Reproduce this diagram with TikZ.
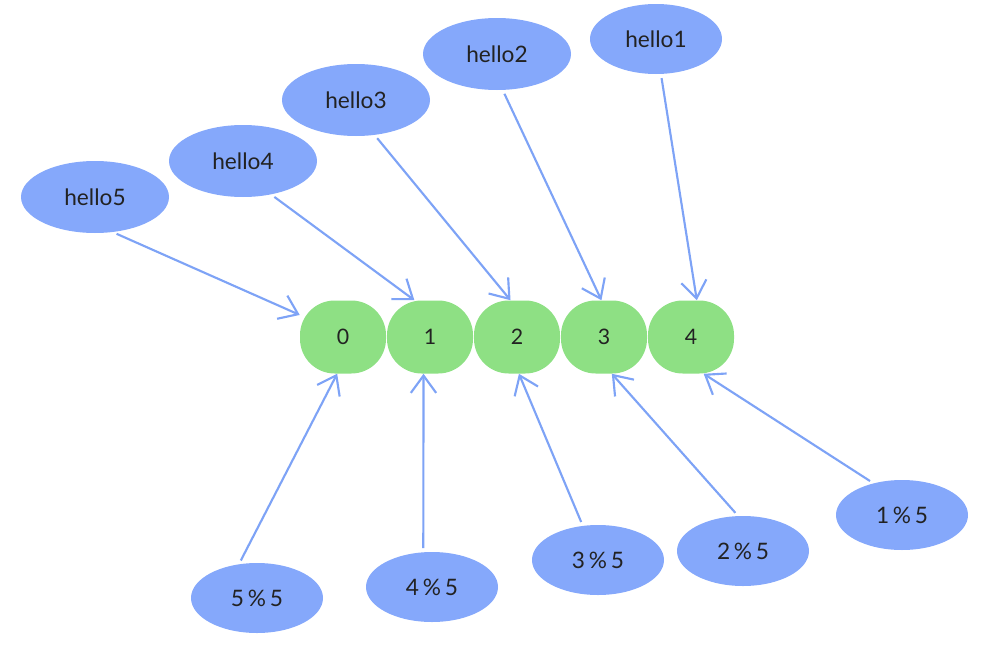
\documentclass[tikz,border=0pt]{standalone}
\usepackage{fontspec}
\setmainfont{Lato}
\usetikzlibrary{shapes.geometric,arrows.meta}
\definecolor{eblue}{HTML}{85A8FB}
\definecolor{lblue}{HTML}{7EA3F6}
\definecolor{ngreen}{HTML}{8EE084}
\definecolor{txt}{HTML}{222222}
\tikzset{
  bigell/.style={ellipse,fill=eblue,inner sep=0pt,minimum width=111pt,minimum height=54pt,text=txt,font=\fontsize{17}{20}\selectfont},
  smallell/.style={ellipse,fill=eblue,inner sep=0pt,minimum width=99pt,minimum height=52.5pt,text=txt,font=\fontsize{17}{20}\selectfont},
  slot/.style={rectangle,rounded corners=26pt,fill=ngreen,inner sep=0pt,minimum width=64.5pt,minimum height=54.75pt,text=txt,font=\fontsize{16}{19}\selectfont},
  conn/.style={draw=lblue,line width=1.6pt,-{Straight Barb[length=13pt,width=19pt,line width=1.6pt]},shorten <=3pt}
}
\begin{document}
\begin{tikzpicture}[x=0.75pt,y=-0.75pt]
\useasboundingbox (0,0) rectangle (996,646);
% slots
\node[slot] (n0) at (343,337) {0};
\node[slot] (n1) at (430,337) {1};
\node[slot] (n2) at (517,337) {2};
\node[slot] (n3) at (604,337) {3};
\node[slot] (n4) at (691,337) {4};
% top ellipses
\node[smallell] (h1) at (656,39) {hello1};
\node[bigell] (h2) at (497,54) {hello2};
\node[bigell] (h3) at (356,100) {hello3};
\node[bigell] (h4) at (243,161) {hello4};
\node[bigell] (h5) at (95,197) {hello5};
% bottom ellipses
\node[smallell] (m5) at (257,598) {5\,\%\,5};
\node[smallell] (m4) at (432,587) {4\,\%\,5};
\node[smallell] (m3) at (598,560) {3\,\%\,5};
\node[smallell] (m2) at (743,551) {2\,\%\,5};
\node[smallell] (m1) at (902,515) {1\,\%\,5};
% connectors
\draw[conn] (h5.-63) -- (n0.153);
\draw[conn] (h4.-50) -- (n1.113);
\draw[conn] (h3.-62) -- (n2.100);
\draw[conn] (h2.-81) -- (n3.94);
\draw[conn] (h1.-82) -- (n4.81);
\draw[conn] (m5.118) -- (n0.-99);
\draw[conn] (m4.104) -- (n1.-100);
\draw[conn] (m3.114) -- (n2.-87);
\draw[conn] (m2.98) -- (n3.-78);
\draw[conn] (m1.132) -- (n4.-71);
\end{tikzpicture}
\end{document}
